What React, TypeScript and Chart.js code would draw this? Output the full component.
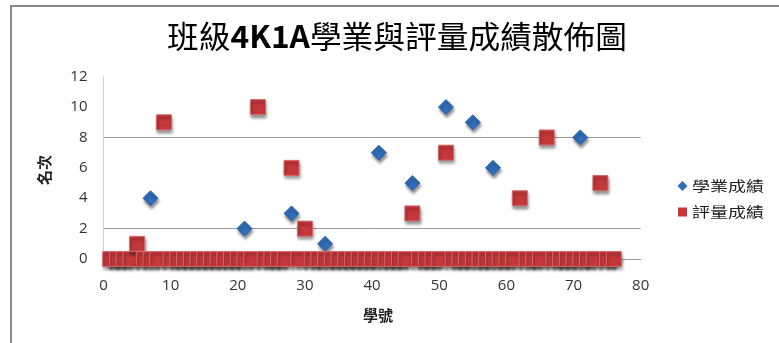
import React, { useEffect, useRef } from "react";
import { Chart, registerables } from "chart.js";

Chart.register(...registerables);

const TITLE_PARTS = [
  { text: "班級", bold: false },
  { text: "4K1A", bold: true },
  { text: "學業與評量成績散佈圖", bold: false },
];
const X_TITLE = "學號";
const Y_TITLE = "名次";
const SERIES_NAMES = ["學業成績", "評量成績"];

const STUDENT_IDS = [
  1, 2, 3, 4, 5, 6, 7, 8, 9, 10,
  11, 12, 13, 14, 15, 16, 17, 18, 19, 20,
  21, 22, 23, 24, 25, 26, 27, 28, 29, 30,
  31, 32, 33, 34, 35, 36, 37, 38, 39, 40,
  41, 42, 43, 44, 45, 46, 47, 48, 49, 50,
  51, 52, 53, 54, 55, 56, 57, 58, 59, 60,
  61, 62, 63, 64, 65, 66, 67, 68, 69, 70,
  71, 72, 73, 74, 75, 76,
];

const ACADEMIC_RANKS = [
  0, 0, 0, 0, 0, 0, 4, 0, 0, 0,
  0, 0, 0, 0, 0, 0, 0, 0, 0, 0,
  2, 0, 0, 0, 0, 0, 0, 3, 0, 0,
  0, 0, 1, 0, 0, 0, 0, 0, 0, 0,
  7, 0, 0, 0, 0, 5, 0, 0, 0, 0,
  10, 0, 0, 0, 9, 0, 0, 6, 0, 0,
  0, 0, 0, 0, 0, 0, 0, 0, 0, 0,
  8, 0, 0, 0, 0, 0,
];

const ASSESSMENT_RANKS = [
  0, 0, 0, 0, 1, 0, 0, 0, 9, 0,
  0, 0, 0, 0, 0, 0, 0, 0, 0, 0,
  0, 0, 10, 0, 0, 0, 0, 6, 0, 2,
  0, 0, 0, 0, 0, 0, 0, 0, 0, 0,
  0, 0, 0, 0, 0, 3, 0, 0, 0, 0,
  7, 0, 0, 0, 0, 0, 0, 0, 0, 0,
  0, 4, 0, 0, 0, 8, 0, 0, 0, 0,
  0, 0, 0, 5, 0, 0,
];

const X_MIN = 0;
const X_MAX = 80;
const X_STEP = 10;
const Y_MIN = 0;
const Y_MAX = 12;
const Y_STEP = 2;
const VISIBLE_GRID_VALUES = [0, 2, 8];

const BLUE = "#2F6EBA";
const BLUE_BORDER = "#2A62A8";
const RED = "#C4373A";
const RED_BORDER = "#D46A6A";
const CJK = '"Noto Sans CJK TC", "Noto Sans", sans-serif';

function drawStretched(
  ctx: CanvasRenderingContext2D,
  parts: { text: string; bold: boolean }[],
  left: number,
  cy: number,
  targetWidth: number,
  size: number,
  color: string
) {
  const widths: number[] = [];
  let total = 0;
  for (const p of parts) {
    ctx.font = `${p.bold ? "bold " : ""}${size}px ${CJK}`;
    const w = ctx.measureText(p.text).width;
    widths.push(w);
    total += w;
  }
  const sx = targetWidth / total;
  ctx.save();
  ctx.translate(left, cy);
  ctx.scale(sx, 1);
  ctx.fillStyle = color;
  ctx.textAlign = "left";
  ctx.textBaseline = "middle";
  let x = 0;
  parts.forEach((p, i) => {
    ctx.font = `${p.bold ? "bold " : ""}${size}px ${CJK}`;
    ctx.fillText(p.text, x, 0);
    x += widths[i];
  });
  ctx.restore();
}

const decorPlugin = {
  id: "decor",
  beforeDatasetsDraw(chart: any) {
    const ctx = chart.ctx;
    ctx.save();
    ctx.shadowColor = "rgba(0,0,0,0.45)";
    ctx.shadowBlur = 3;
    ctx.shadowOffsetX = 1;
    ctx.shadowOffsetY = 3;
  },
  afterDatasetsDraw(chart: any) {
    chart.ctx.restore();
  },
  afterDraw(chart: any) {
    const ctx: CanvasRenderingContext2D = chart.ctx;
    // Title
    drawStretched(ctx, TITLE_PARTS, 167, 36, 460, 31, "#000");

    // Axis titles
    ctx.save();
    ctx.fillStyle = "#222";
    ctx.font = `bold 15px ${CJK}`;
    ctx.textAlign = "center";
    ctx.textBaseline = "middle";
    ctx.fillText(X_TITLE, 378, 315);
    ctx.translate(44, 170);
    ctx.rotate(-Math.PI / 2);
    ctx.fillText(Y_TITLE, 0, 0);
    ctx.restore();

    // Legend
    ctx.save();
    const dx = 682.5;
    const y1 = 186;
    const y2 = 212;
    ctx.fillStyle = BLUE;
    ctx.beginPath();
    ctx.moveTo(dx, y1 - 5);
    ctx.lineTo(dx + 5, y1);
    ctx.lineTo(dx, y1 + 5);
    ctx.lineTo(dx - 5, y1);
    ctx.closePath();
    ctx.fill();
    ctx.fillStyle = RED;
    ctx.fillRect(dx - 4.5, y2 - 4.5, 9, 9);
    ctx.restore();
    drawStretched(ctx, [{ text: SERIES_NAMES[0], bold: false }], 692, y1, 72, 14, "#222");
    drawStretched(ctx, [{ text: SERIES_NAMES[1], bold: false }], 692, y2, 72, 14, "#222");
  },
};

export default function App() {
  const ref = useRef<HTMLCanvasElement | null>(null);

  useEffect(() => {
    if (!ref.current) return;
    const academic = STUDENT_IDS.map((id, i) => ({ x: id, y: ACADEMIC_RANKS[i] }));
    const assessment = STUDENT_IDS.map((id, i) => ({ x: id, y: ASSESSMENT_RANKS[i] }));
    const chart = new Chart(ref.current, {
      type: "scatter",
      data: {
        datasets: [
          {
            label: SERIES_NAMES[0],
            data: academic,
            pointStyle: "rectRot",
            pointRadius: 7.5,
            pointHoverRadius: 7.5,
            backgroundColor: BLUE,
            borderColor: BLUE_BORDER,
            borderWidth: 1,
            order: 2,
            clip: false,
          } as any,
          {
            label: SERIES_NAMES[1],
            data: assessment,
            pointStyle: "rect",
            pointRadius: 10.6,
            pointHoverRadius: 10.6,
            backgroundColor: RED,
            borderColor: RED_BORDER,
            borderWidth: 1,
            order: 1,
            clip: false,
          } as any,
        ],
      },
      options: {
        animation: false,
        responsive: false,
        maintainAspectRatio: false,
        events: [],
        layout: { padding: { left: 0, right: 138.3, top: 76.7, bottom: 0 } },
        plugins: {
          legend: { display: false },
          title: { display: false },
          tooltip: { enabled: false },
        },
        scales: {
          x: {
            type: "linear",
            min: X_MIN,
            max: X_MAX,
            ticks: {
              stepSize: X_STEP,
              padding: 18,
              color: "#333",
              font: { family: '"Open Sans", sans-serif', size: 15 },
            },
            grid: { display: false, drawTicks: false },
            border: { display: true, color: "#9a9a9a" },
            afterFit: (s: any) => {
              s.height = 84;
            },
          },
          y: {
            type: "linear",
            min: Y_MIN,
            max: Y_MAX,
            ticks: {
              stepSize: Y_STEP,
              padding: 16,
              color: "#333",
              font: { family: '"Open Sans", sans-serif', size: 15 },
            },
            grid: {
              drawTicks: false,
              color: (c: any) =>
                c.tick && VISIBLE_GRID_VALUES.includes(c.tick.value) ? "#9a9a9a" : "rgba(0,0,0,0)",
            },
            border: { display: true, color: "#d0d0d0" },
            afterFit: (s: any) => {
              s.width = 103.5;
            },
          },
        },
      },
      plugins: [decorPlugin],
    });
    return () => chart.destroy();
  }, []);

  return (
    <div style={{ position: "fixed", left: 0, top: 0, width: 779, height: 343, background: "#fff" }}>
      <canvas ref={ref} width={779} height={343} style={{ display: "block", width: 779, height: 343 }} />
      <div
        style={{
          position: "absolute",
          left: 10,
          top: 5,
          width: 779,
          height: 343,
          borderLeft: "2px solid #8a8a8a",
          borderTop: "2px solid #8a8a8a",
          pointerEvents: "none",
        }}
      />
    </div>
  );
}
